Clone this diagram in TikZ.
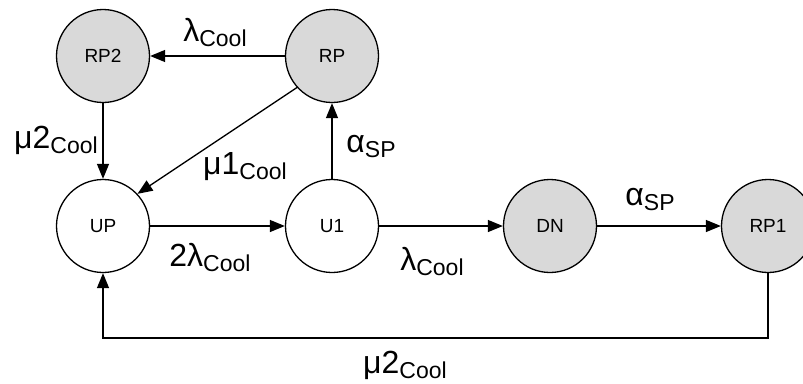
\documentclass[tikz,border=0pt]{standalone}
\usepackage{fontspec}
\setmainfont{Liberation Sans}
\usetikzlibrary{arrows.meta}
\newcommand{\ratesub}[1]{\raisebox{-5pt}{\fontsize{23}{23}\selectfont #1}}

\begin{document}
\begin{tikzpicture}[
        x=1pt, y=-1pt,
        state/.style={circle, draw, minimum size=93pt, inner sep=0pt, font=\fontsize{19}{19}\selectfont},
        down/.style={state, fill=gray!30},
        rate/.style={inner sep=0pt, font=\fontsize{32}{32}\selectfont},
        >={Triangle[length=15pt,width=12pt]},
        line width=1.3pt
    ]
        \useasboundingbox (0,0) rectangle (803,383);
        % Estados
        \node[down]  (RP2) at (103,56)  {RP2};
        \node[down]  (RP)  at (332,56)  {RP};
        \node[state] (UP)  at (103,226) {UP};
        \node[state] (U1)  at (332,226) {U1};
        \node[down]  (DN)  at (550,226) {DN};
        \node[down]  (RP1) at (768,226) {RP1};
        \coordinate (back) at (103,338);

        % Transiciones
        \draw[->] (RP) -- (RP2);
        \draw[->] (RP2) -- (UP);
        \draw[->] (RP.222) -- (UP.43);
        \draw[->] (U1) -- (RP);
        \draw[->] (UP) -- (U1);
        \draw[->] (U1) -- (DN);
        \draw[->] (DN) -- (RP1);
        \draw[->] (RP1) |- (back) -- (UP);

        % Tasas
        \node[rate] (lRP)  at (215,33)  {λ\ratesub{Cool}};
        \node[rate] (mRP2) at (56,140)  {μ2\ratesub{Cool}};
        \node[rate] (mRP)  at (245,167) {μ1\ratesub{Cool}};
        \node[rate] (aU1)  at (371,147) {α\ratesub{SP}};
        \node[rate] (lUP)  at (210,258) {2λ\ratesub{Cool}};
        \node[rate] (lU1)  at (432,262) {λ\ratesub{Cool}};
        \node[rate] (aDN)  at (650,199) {α\ratesub{SP}};
        \node[rate] (mRP1) at (405,365) {μ2\ratesub{Cool}};
\end{tikzpicture}
\end{document}
